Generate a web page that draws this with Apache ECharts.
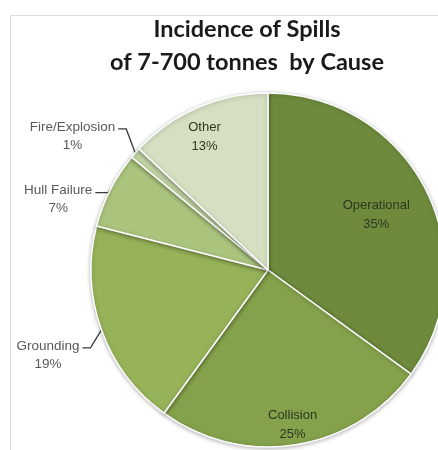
<!DOCTYPE html>
<html>
<head>
<meta charset="utf-8">
<script src="https://cdn.jsdelivr.net/npm/echarts@6/dist/echarts.min.js"></script>
<style>
  html, body { margin: 0; padding: 0; background: #ffffff; }
  #chart { width: 438px; height: 450px; }
</style>
</head>
<body>
<div id="chart"></div>
<script>
// Spill causes (share of incidents, %), clockwise from 12 o'clock
const causes = ['Operational', 'Collision', 'Grounding', 'Hull Failure', 'Fire/Explosion', 'Other'];
const shares = [35, 25, 19, 7, 1, 13];

const sliceColors = ['#6e8b3d', '#84a14b', '#96b359', '#aac47e', '#c0d3a2', '#d5e0c3'];

// Labels drawn inside the slice: how far out along the radius (0..1) they sit, plus a small nudge
const insideAt = {
  'Operational': { k: 0.67, nudge: [0, 0] },
  'Collision':   { k: 0.87, nudge: [0, 0] },
  'Other':       { k: 0.83, nudge: [-4, 5] }
};
// Leader lines for outside labels: bend offset from the slice edge, then a short horizontal tail
const leader = {
  'Grounding':      { bend: [-11, 18], tail: 8 },
  'Hull Failure':   { bend: [-2, 3],   tail: 13 },
  'Fire/Explosion': { bend: [-9, -24], tail: 8 }
};

const R = 177;
const CX = 268, CY = 270;

const data = causes.map((name, i) => {
  const item = { name: name, value: shares[i], itemStyle: { color: sliceColors[i] } };
  if (insideAt[name] != null) {
    item.label = {
      position: 'inside', color: '#2e3720', fontSize: 13, lineHeight: 19,
      formatter: p => p.name + '\n' + p.value + '%'
    };
    item.labelLine = { show: false };
  } else {
    item.label = {
      position: 'outside', color: '#595959', distanceToLabelLine: 3,
      formatter: p => '{s| }\n{t|' + p.name + '}\n{t|' + p.value + '%}',
      rich: {
        s: { fontSize: 6, lineHeight: 14 },
        t: { fontSize: 13.5, lineHeight: 18, color: '#595959', align: 'center',
             fontFamily: '"Liberation Sans", Arial, sans-serif' }
      }
    };
    item.labelLine = { show: true, length: 6, length2: 6,
      lineStyle: { color: '#3a3a3a', width: 1.3 } };
  }
  return item;
});

// Slice mid-angles, used to push the inside labels outward along their radius
const total = shares.reduce((a, b) => a + b, 0);
const midDir = [];
let acc = 0;
shares.forEach(v => {
  const a = (acc + v / 2) / total * 2 * Math.PI;
  midDir.push([Math.sin(a), -Math.cos(a)]);
  acc += v;
});

const chart = echarts.init(document.getElementById('chart'), null, { renderer: 'canvas' });
chart.setOption({
  backgroundColor: '#ffffff',
  animation: false,
  title: {
    text: 'Incidence of Spills\nof 7-700 tonnes  by Cause',
    left: 242, top: 8, textAlign: 'center',
    textStyle: {
      fontFamily: 'Lato, "Open Sans", sans-serif',
      fontWeight: 'bold', fontSize: 23.5, lineHeight: 33, color: '#1a1a1a'
    }
  },
  graphic: [
    { type: 'line', shape: { x1: 10.5, y1: 15.5, x2: 438, y2: 15.5 }, style: { stroke: '#dedede', lineWidth: 1 }, silent: true },
    { type: 'line', shape: { x1: 10.5, y1: 15.5, x2: 10.5, y2: 450 }, style: { stroke: '#dedede', lineWidth: 1 }, silent: true }
  ],
  series: [{
    type: 'pie',
    center: [CX, CY],
    radius: [0, R],
    startAngle: 90,
    clockwise: true,
    avoidLabelOverlap: false,
    itemStyle: {
      borderColor: '#ffffff', borderWidth: 1.5,
      shadowColor: 'rgba(0,0,0,0.28)', shadowBlur: 4, shadowOffsetY: 1
    },
    label: {
      fontFamily: '"Liberation Sans", Arial, sans-serif'
    },
    labelLayout: function (p) {
      const name = causes[p.dataIndex];
      const ins = insideAt[name];
      if (ins != null) {
        const d = midDir[p.dataIndex];
        const shift = (ins.k - 0.5) * R;
        return { dx: d[0] * shift + ins.nudge[0], dy: d[1] * shift + ins.nudge[1] };
      }
      const pts = p.labelLinePoints;
      if (!pts) return {};
      const L = leader[name];
      const p0 = pts[0];
      const p1 = [p0[0] + L.bend[0], p0[1] + L.bend[1]];
      const p2 = [p1[0] - L.tail, p1[1]];
      return { x: p2[0] - 3, y: p2[1], labelLinePoints: [p0, p1, p2] };
    },
    data: data
  }]
});
</script>
</body>
</html>
